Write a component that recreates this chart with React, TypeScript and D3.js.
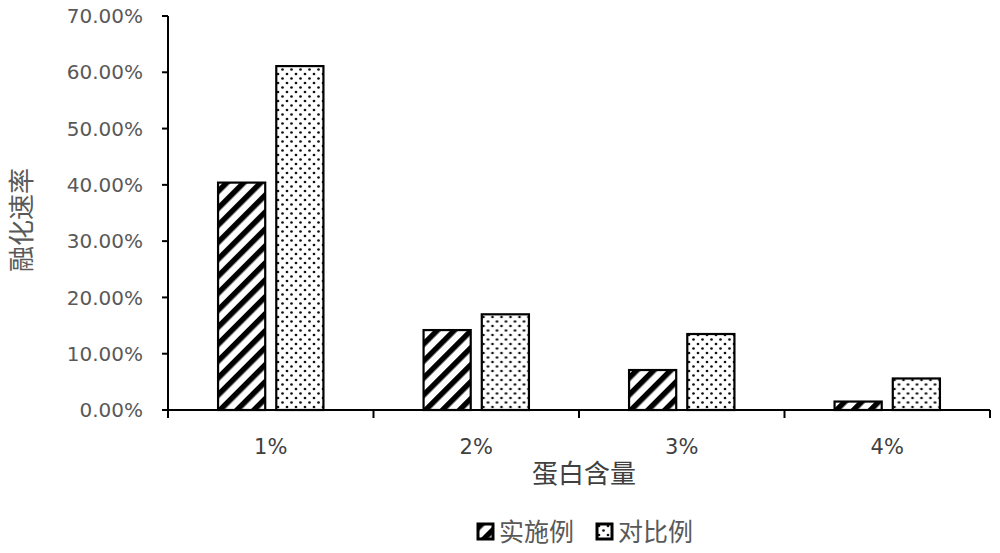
import { useEffect, useRef } from "react";
import * as d3 from "d3";

const categories = ["1%", "2%", "3%", "4%"];
const seriesNames = ["实施例", "对比例"];
const seriesA = [0.404, 0.142, 0.071, 0.015];
const seriesB = [0.611, 0.17, 0.135, 0.056];
const yTicks = [0, 0.1, 0.2, 0.3, 0.4, 0.5, 0.6, 0.7];

const WIDTH = 1000;
const HEIGHT = 553;

const App = () => {
  const svgRef = useRef<SVGSVGElement | null>(null);

  useEffect(() => {
    if (!svgRef.current) return;
    const svg = d3.select(svgRef.current);
    svg.selectAll("*").remove();

    const margin = { top: 16, right: 10, bottom: 143, left: 168 };
    const x0 = margin.left;
    const x1 = WIDTH - margin.right;
    const yBottom = HEIGHT - margin.bottom;

    const numFont = "'DejaVu Sans', sans-serif";
    const cjkFont = "'Noto Sans CJK SC', sans-serif";

    // patterns
    const defs = svg.append("defs");
    const hatch = defs
      .append("pattern")
      .attr("id", "hatch")
      .attr("patternUnits", "userSpaceOnUse")
      .attr("width", 12)
      .attr("height", 12)
      .attr("patternTransform", "rotate(45)");
    hatch.append("rect").attr("width", 12).attr("height", 12).attr("fill", "#fff");
    hatch.append("rect").attr("width", 5.5).attr("height", 12).attr("fill", "#000");

    const dots = defs
      .append("pattern")
      .attr("id", "dots")
      .attr("patternUnits", "userSpaceOnUse")
      .attr("width", 9)
      .attr("height", 9);
    dots.append("rect").attr("width", 9).attr("height", 9).attr("fill", "#fff");
    dots.append("circle").attr("cx", 2).attr("cy", 2).attr("r", 1.35).attr("fill", "#111");
    dots.append("circle").attr("cx", 6.5).attr("cy", 6.5).attr("r", 1.35).attr("fill", "#111");

    const fills = ["url(#hatch)", "url(#dots)"];

    // scales
    const x = d3.scaleBand<string>().domain(categories).range([x0, x1]);
    const xs = d3
      .scaleBand<string>()
      .domain(seriesNames)
      .range([0, x.bandwidth()])
      .paddingInner(0.19)
      .paddingOuter(0.86);
    const y = d3.scaleLinear().domain([0, 0.7]).range([yBottom, margin.top]);

    // bars
    const rows = categories.map((c, i) => ({ c, vals: [seriesA[i], seriesB[i]] }));
    const groups = svg
      .selectAll("g.cat")
      .data(rows)
      .enter()
      .append("g")
      .attr("transform", (d) => `translate(${x(d.c)},0)`);
    groups
      .selectAll("rect")
      .data((d) => d.vals.map((v, k) => ({ v, k })))
      .enter()
      .append("rect")
      .attr("x", (d) => xs(seriesNames[d.k]) as number)
      .attr("y", (d) => y(d.v))
      .attr("width", xs.bandwidth())
      .attr("height", (d) => yBottom - y(d.v))
      .attr("fill", (d) => fills[d.k])
      .attr("stroke", "#000")
      .attr("stroke-width", 2.2);

    // y axis
    const yAxis = svg.append("g");
    yAxis
      .append("line")
      .attr("x1", x0)
      .attr("x2", x0)
      .attr("y1", y(0.7))
      .attr("y2", yBottom)
      .attr("stroke", "#000")
      .attr("stroke-width", 2);
    yAxis
      .selectAll("line.tick")
      .data(yTicks)
      .enter()
      .append("line")
      .attr("x1", x0 - 6)
      .attr("x2", x0)
      .attr("y1", (d) => y(d))
      .attr("y2", (d) => y(d))
      .attr("stroke", "#000")
      .attr("stroke-width", 2);
    yAxis
      .selectAll("text")
      .data(yTicks)
      .enter()
      .append("text")
      .attr("x", x0 - 25)
      .attr("y", (d) => y(d))
      .attr("dy", "0.36em")
      .attr("text-anchor", "end")
      .attr("font-family", numFont)
      .attr("font-size", 20)
      .attr("fill", "#595959")
      .text((d) => d3.format(".2%")(d));

    // x axis
    const xAxis = svg.append("g");
    xAxis
      .append("line")
      .attr("x1", x0)
      .attr("x2", x1)
      .attr("y1", yBottom)
      .attr("y2", yBottom)
      .attr("stroke", "#000")
      .attr("stroke-width", 2);
    const bounds = categories.map((c) => x(c) as number).concat([x1]);
    xAxis
      .selectAll("line.tick")
      .data(bounds)
      .enter()
      .append("line")
      .attr("x1", (d) => d)
      .attr("x2", (d) => d)
      .attr("y1", yBottom)
      .attr("y2", yBottom + 8)
      .attr("stroke", "#000")
      .attr("stroke-width", 2);
    xAxis
      .selectAll("text")
      .data(categories)
      .enter()
      .append("text")
      .attr("x", (d) => (x(d) as number) + x.bandwidth() / 2)
      .attr("y", yBottom + 44)
      .attr("text-anchor", "middle")
      .attr("font-family", numFont)
      .attr("font-size", 21)
      .attr("fill", "#404040")
      .text((d) => d);

    // axis titles
    svg
      .append("text")
      .attr("x", (x0 + x1) / 2 + 5)
      .attr("y", 483)
      .attr("text-anchor", "middle")
      .attr("font-family", cjkFont)
      .attr("font-size", 26)
      .attr("fill", "#404040")
      .text("蛋白含量");
    svg
      .append("text")
      .attr("transform", `translate(31,220) rotate(-90)`)
      .attr("text-anchor", "middle")
      .attr("font-family", cjkFont)
      .attr("font-size", 26)
      .attr("fill", "#595959")
      .text("融化速率");

    // legend
    const legendX = [478, 597];
    seriesNames.forEach((name, k) => {
      const lg = svg.append("g").attr("transform", `translate(${legendX[k]},524)`);
      lg.append("rect")
        .attr("width", 15)
        .attr("height", 15)
        .attr("fill", fills[k])
        .attr("stroke", "#000")
        .attr("stroke-width", 3);
      lg.append("text")
        .attr("x", 21)
        .attr("y", 8)
        .attr("dy", "0.36em")
        .attr("font-family", cjkFont)
        .attr("font-size", 25)
        .attr("fill", "#595959")
        .text(name);
    });
  }, []);

  return (
    <div style={{ position: "absolute", left: 0, top: 0, background: "#fff" }}>
      <svg ref={svgRef} width={WIDTH} height={HEIGHT}></svg>
    </div>
  );
};

export default App;
